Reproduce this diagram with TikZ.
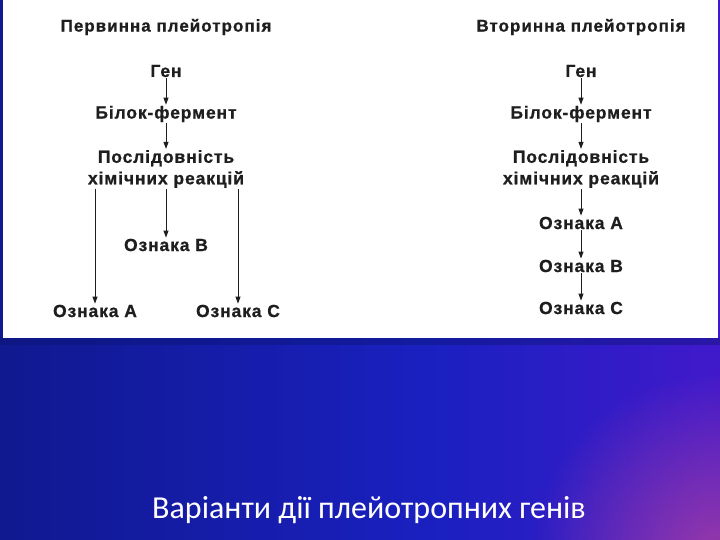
\documentclass[tikz,border=0pt]{standalone}
\usepackage{fontspec}
\setmainfont{Liberation Sans}
\newfontfamily\lblfont{Liberation Sans}[LetterSpace=5, BoldFeatures={FakeBold=0.8}]
\newfontfamily\ttlfont{Liberation Sans}[LetterSpace=6, BoldFeatures={FakeBold=0.8}]
\newfontfamily\captionfnt{Carlito}
\usetikzlibrary{arrows.meta,fadings}
\definecolor{navy}{HTML}{0A1470}
\definecolor{midblue}{HTML}{1A20C0}
\definecolor{purp}{HTML}{6A12D8}
\definecolor{mag}{HTML}{9A3AA8}
\definecolor{ink}{HTML}{1E1E1E}
\pgfdeclarehorizontalshading{bgshade}{100bp}{color(0bp)=(navy); color(20bp)=(navy!70!midblue); color(55bp)=(midblue); color(80bp)=(midblue!40!purp); color(100bp)=(purp)}
\tikzfading[name=softspot, inner color=transparent!0, outer color=transparent!100]
\tikzset{
  lbl/.style={font=\lblfont\bfseries\fontsize{17.5}{21.5}\selectfont, text=ink, inner sep=1pt, align=center},
  ttl/.style={font=\ttlfont\bfseries\fontsize{17}{19}\selectfont, text=ink, inner sep=1pt},
  arr/.style={draw=ink, line width=0.9pt, -{Triangle[length=7pt,width=5pt]}}
}
\begin{document}
\begin{tikzpicture}[x=1pt,y=-1pt]
\useasboundingbox (0,0) rectangle (720,540);
% background gradient
\shade[shading=bgshade] (0,0) rectangle (720,540);
\fill[mag, path fading=softspot] (720,560) circle (190);
\fill[navy, opacity=0.4] (0,338) rectangle (720,345);
% white panel
\fill[white] (3,0) rectangle (718,338);
% left column
\node[ttl] (t1) at (166,27) {Первинна плейотропія};
\node[lbl] (g1) at (166,71) {Ген};
\node[lbl] (b1) at (166,114) {Білок-фермент};
\node[lbl] (p1) at (166,169) {Послідовність\\хімічних реакцій};
\node[lbl] (sb1) at (166,245) {Ознака B};
\node[lbl] (sa1) at (95,311) {Ознака A};
\node[lbl] (sc1) at (238,311) {Ознака C};
\draw[arr] (g1) -- (b1);
\draw[arr] (b1) -- (p1);
\draw[arr] (p1.south) -- (sb1.north);
\draw[arr] (p1.south -| sa1) -- (sa1.north);
\draw[arr] (p1.south -| sc1) -- (sc1.north);
% right column
\node[ttl] (t2) at (581,27) {Вторинна плейотропія};
\node[lbl] (g2) at (581,71) {Ген};
\node[lbl] (b2) at (581,114) {Білок-фермент};
\node[lbl] (p2) at (581,169) {Послідовність\\хімічних реакцій};
\node[lbl] (sa2) at (581,223) {Ознака A};
\node[lbl] (sb2) at (581,266) {Ознака B};
\node[lbl] (sc2) at (581,308) {Ознака C};
\draw[arr] (g2) -- (b2);
\draw[arr] (b2) -- (p2);
\draw[arr] (p2) -- (sa2);
\draw[arr] (sa2) -- (sb2);
\draw[arr] (sb2) -- (sc2);
% caption
\node[font=\captionfnt\fontsize{32}{36}\selectfont, text=white] (cap) at (369,510) {Варіанти дії плейотропних генів};
\end{tikzpicture}
\end{document}
